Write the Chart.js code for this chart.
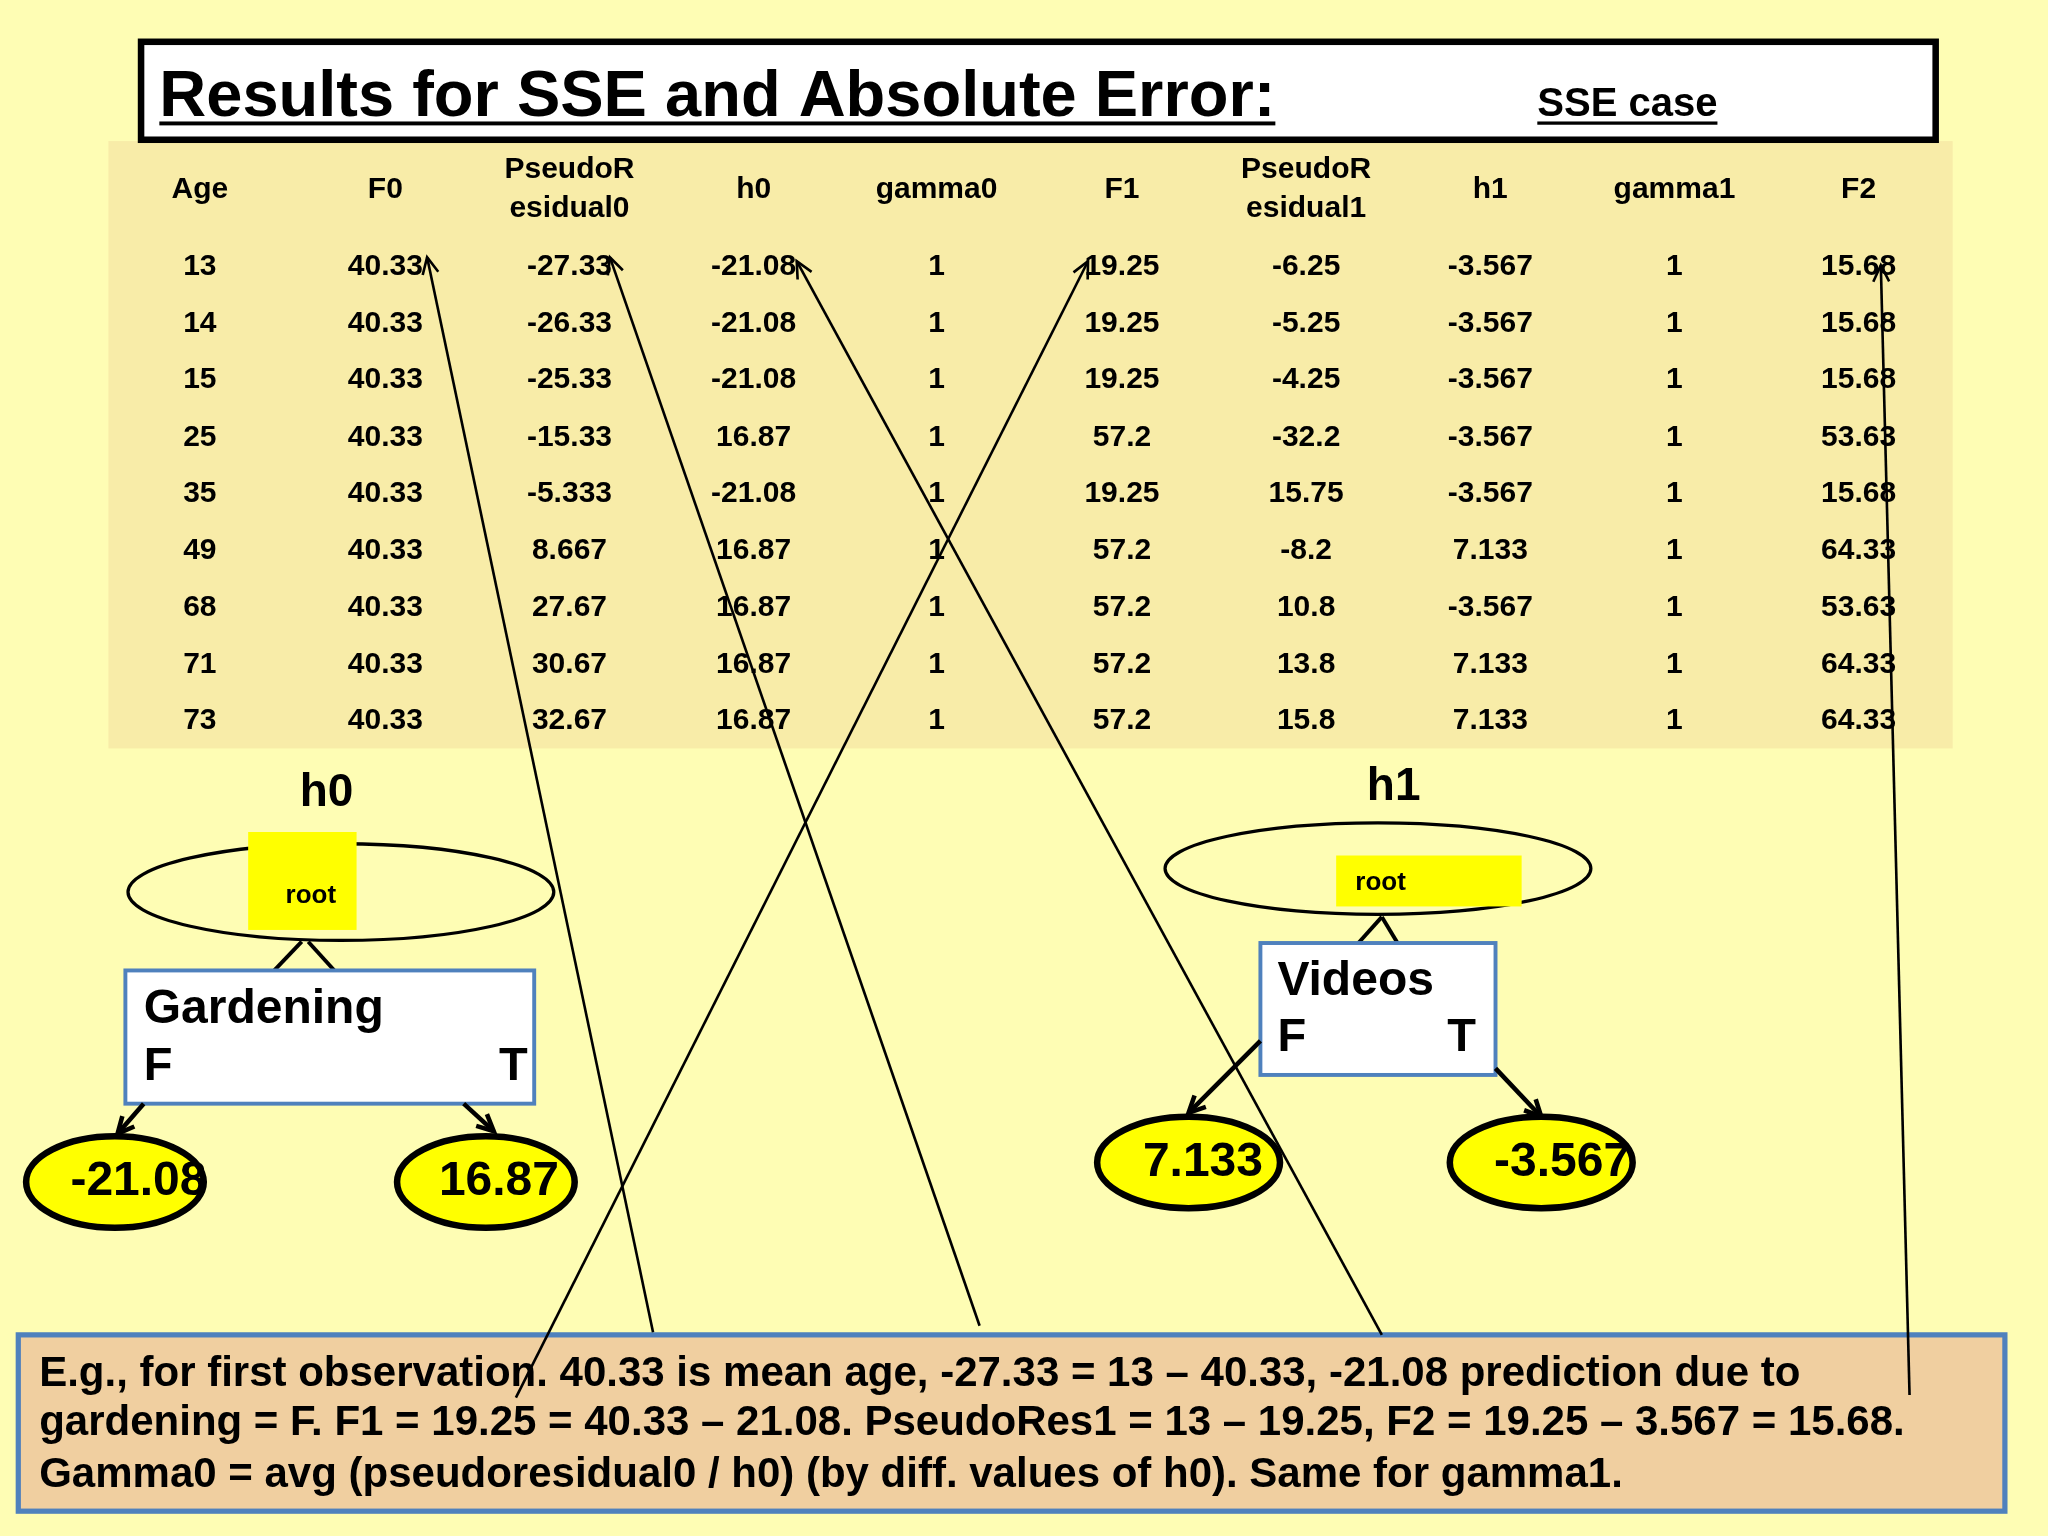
<!DOCTYPE html>
<html><head><meta charset="utf-8">
<script src="https://cdn.jsdelivr.net/npm/chart.js@4/dist/chart.umd.min.js"></script>
<style>html,body{margin:0;padding:0;background:#fefdb4}</style>
</head><body>
<canvas id="c" width="2048" height="1536" style="width:2048px;height:1536px;display:block"></canvas>
<script>
const headers = [["Age"],["F0"],["PseudoR","esidual0"],["h0"],["gamma0"],["F1"],["PseudoR","esidual1"],["h1"],["gamma1"],["F2"]];
const age = ["13","14","15","25","35","49","68","71","73"];
const F0 = ["40.33","40.33","40.33","40.33","40.33","40.33","40.33","40.33","40.33"];
const pseudoRes0 = ["-27.33","-26.33","-25.33","-15.33","-5.333","8.667","27.67","30.67","32.67"];
const h0 = ["-21.08","-21.08","-21.08","16.87","-21.08","16.87","16.87","16.87","16.87"];
const gamma0 = ["1","1","1","1","1","1","1","1","1"];
const F1 = ["19.25","19.25","19.25","57.2","19.25","57.2","57.2","57.2","57.2"];
const pseudoRes1 = ["-6.25","-5.25","-4.25","-32.2","15.75","-8.2","10.8","13.8","15.8"];
const h1 = ["-3.567","-3.567","-3.567","-3.567","-3.567","7.133","-3.567","7.133","7.133"];
const gamma1 = ["1","1","1","1","1","1","1","1","1"];
const F2 = ["15.68","15.68","15.68","53.63","15.68","64.33","53.63","64.33","64.33"];
const columns = [age,F0,pseudoRes0,h0,gamma0,F1,pseudoRes1,h1,gamma1,F2];
const tree0 = {label:"h0", feature:"Gardening", leftVal:"-21.08", rightVal:"16.87"};
const tree1 = {label:"h1", feature:"Videos", leftVal:"7.133", rightVal:"-3.567"};
const noteLines = [
 "E.g., for first observation. 40.33 is mean age, -27.33 = 13 \u2013 40.33, -21.08 prediction due to",
 "gardening = F. F1 = 19.25 = 40.33 \u2013 21.08. PseudoRes1 = 13 \u2013 19.25, F2 = 19.25 \u2013 3.567 = 15.68.",
 "Gamma0 = avg (pseudoresidual0 / h0) (by diff. values of h0). Same for gamma1."];

const colX = [153,295,436,577,717,859,1000,1141,1282,1423];
const rowY = [204,248,291,335,378,422,465,509,552];
const arrows = [[500,1020,327,197],[750,1015,467,197],[1058,1022,610,200],[395,1070,833,200],[1462,1068,1440,203]];

const slide = {
 id:'slide',
 afterDraw(chart){
  const ctx=chart.ctx, xs=chart.scales.x, ys=chart.scales.y;
  const X=v=>xs.getPixelForValue(v), Y=v=>ys.getPixelForValue(v);
  const k=chart.width/1568;
  const F=(s,b)=>(b?'bold ':'')+Math.round(s*k)+'px Arial, "Liberation Sans", sans-serif';
  ctx.save();
  ctx.fillStyle='#f8eca8'; ctx.fillRect(X(83),Y(108),X(1495)-X(83),Y(573)-Y(108));
  ctx.fillStyle='#ffffff'; ctx.fillRect(X(108),Y(32),X(1482)-X(108),Y(107)-Y(32));
  ctx.lineWidth=5*k; ctx.strokeStyle='#000'; ctx.strokeRect(X(108),Y(32),X(1482)-X(108),Y(107)-Y(32));
  ctx.fillStyle='#000'; ctx.textBaseline='alphabetic'; ctx.textAlign='left';
  const ul=(t,x,y,f,lw)=>{ctx.font=f;ctx.fillText(t,X(x),Y(y));const w=ctx.measureText(t).width;ctx.fillRect(X(x),Y(y)+4*k,w,lw*k);};
  ul("Results for SSE and Absolute Error:",122,89,F(50,true),3);
  ul("SSE case",1177,89,F(31,true),2.5);
  ctx.textAlign='center'; ctx.textBaseline='middle'; ctx.font=F(23,true);
  headers.forEach((h,i)=>{ if(h.length==1) ctx.fillText(h[0],X(colX[i]),Y(145)); else {ctx.fillText(h[0],X(colX[i]),Y(130));ctx.fillText(h[1],X(colX[i]),Y(160));}});
  columns.forEach((col,i)=>col.forEach((v,j)=>ctx.fillText(v,X(colX[i]),Y(rowY[j]))));
  const ell=(cx,cy,rx,ry,fill,lw)=>{ctx.beginPath();ctx.ellipse(X(cx),Y(cy),rx*k,ry*k,0,0,Math.PI*2);if(fill){ctx.fillStyle=fill;ctx.fill();}ctx.lineWidth=lw*k;ctx.strokeStyle='#000';ctx.stroke();};
  const line=(a,b,c,d,lw)=>{ctx.beginPath();ctx.moveTo(X(a),Y(b));ctx.lineTo(X(c),Y(d));ctx.lineWidth=lw*k;ctx.strokeStyle='#000';ctx.stroke();};
  const arrow=(a,b,c,d,lw,hl)=>{line(a,b,c,d,lw);const ang=Math.atan2(Y(d)-Y(b),X(c)-X(a));ctx.beginPath();ctx.moveTo(X(c)-hl*k*Math.cos(ang-0.45),Y(d)-hl*k*Math.sin(ang-0.45));ctx.lineTo(X(c),Y(d));ctx.lineTo(X(c)-hl*k*Math.cos(ang+0.45),Y(d)-hl*k*Math.sin(ang+0.45));ctx.stroke();};
  const txt=(t,x,y,f,al)=>{ctx.font=f;ctx.textAlign=al||'center';ctx.fillStyle='#000';ctx.fillText(t,X(x),Y(y));};
  const box=(x1,y1,x2,y2,fill,lw)=>{ctx.fillStyle=fill;ctx.fillRect(X(x1),Y(y1),X(x2)-X(x1),Y(y2)-Y(y1));ctx.lineWidth=lw*k;ctx.strokeStyle='#4f81bd';ctx.strokeRect(X(x1),Y(y1),X(x2)-X(x1),Y(y2)-Y(y1));};
  txt(tree0.label,250,607,F(35,true));
  ell(261,683,163,37,null,2.5);
  ctx.fillStyle='#ffff00';ctx.fillRect(X(190),Y(637),X(273)-X(190),Y(712)-Y(637));
  txt("root",238,686,F(20,true));
  line(231,721,210,743,3);line(236,721,256,743,3);
  box(96,743,409,845,'#ffffff',3);
  txt(tree0.feature,110,773,F(36.5,true),'left');txt("F",110,817,F(36,true),'left');txt("T",382,817,F(36,true),'left');
  arrow(110,845,90,868,3.5,14);arrow(355,845,378,866,3.5,14);
  ell(88,905,68,35,'#ffff00',5);txt(tree0.leftVal,106,905,F(37,true));
  ell(372,905,68,35,'#ffff00',5);txt(tree0.rightVal,382,905,F(37,true));
  txt(tree1.label,1067,603,F(35,true));
  ell(1055,665,163,35,null,2.5);
  ctx.fillStyle='#ffff00';ctx.fillRect(X(1023),Y(655),X(1165)-X(1023),Y(694)-Y(655));
  txt("root",1057,676,F(20,true));
  line(1058,702,1040,722,3);line(1058,702,1070,722,3);
  box(965,722,1145,823,'#ffffff',3);
  txt(tree1.feature,978,752,F(36.5,true),'left');txt("F",978,795,F(36,true),'left');txt("T",1108,795,F(36,true),'left');
  arrow(965,797,910,852,3.5,14);arrow(1145,818,1180,855,3.5,14);
  ell(910,890,70,35,'#ffff00',5);txt(tree1.leftVal,921,890,F(37,true));
  ell(1180,890,70,35,'#ffff00',5);txt(tree1.rightVal,1196,890,F(37,true));
  box(14,1022,1535,1157,'#f0cfa0',4);
  noteLines.forEach((l,i)=>txt(l,30,[1052,1090,1130][i],F(32,true),'left'));
  arrows.forEach(a=>arrow(a[0],a[1],a[2],a[3],2,14));
  ctx.restore();
 }
};
new Chart(document.getElementById('c'),{
 type:'scatter',
 data:{datasets:[{data:[],pointRadius:0}]},
 options:{responsive:false,animation:false,events:[],
  layout:{padding:0},
  plugins:{legend:{display:false},tooltip:{enabled:false}},
  scales:{x:{type:'linear',min:0,max:1568,display:false},y:{type:'linear',min:0,max:1176,reverse:true,display:false}}},
 plugins:[slide]
});
</script>
</body></html>
